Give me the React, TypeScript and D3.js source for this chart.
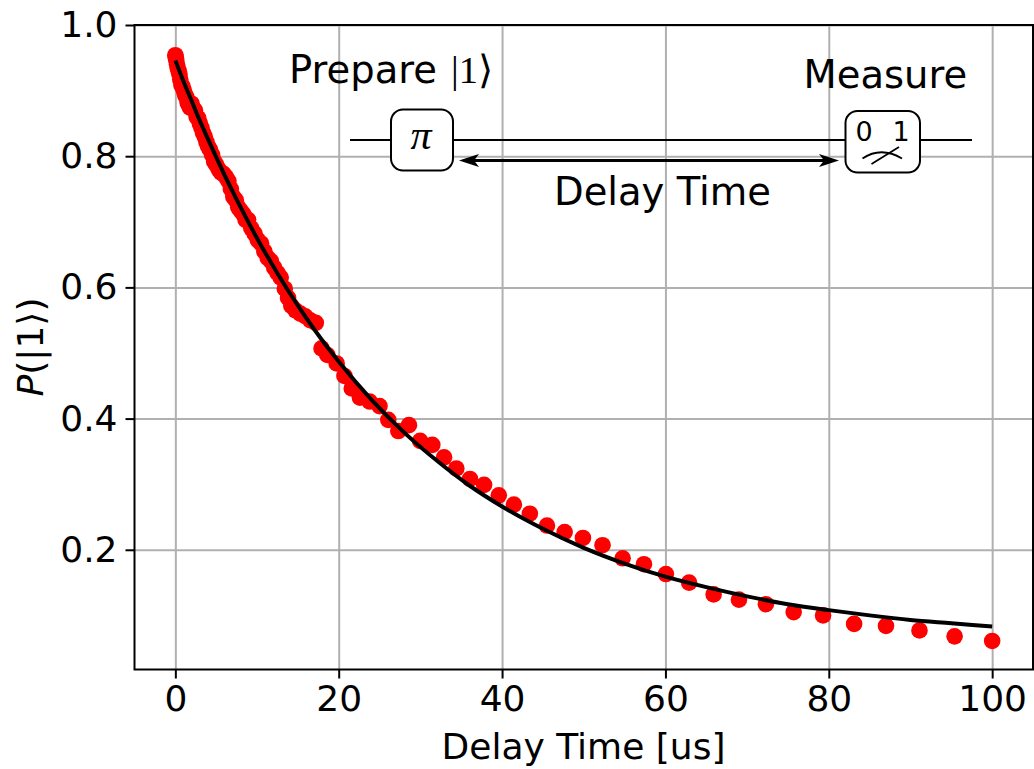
import React, { useEffect, useRef } from "react";
import * as d3 from "d3";

const delayTimes = [0,.05,.1,.2,.3,.4,.5,.6,.75,.9,1.05,1.2,1.35,1.5,1.65,1.8,2,2.2,2.4,2.6,2.8,3,3.2,3.4,3.6,3.8,4,4.25,4.5,4.75,5,5.3,5.6,5.9,6.2,6.5,6.8,7.1,7.4,7.7,8,8.3,8.6,8.9,9.3,9.7,10.1,10.5,10.9,11.3,11.7,12.1,12.5,12.9,13.4,13.8,14.2,14.7,15.3,15.9,16.5,17.2,17.9,18.6,19.75,20.7,21.6,22.6,23.8,25,26.07,27.3,28.6,29.97,31.46,32.9,34.4,36.07,37.8,39.6,41.45,43.4,45.5,47.66,49.9,52.3,54.76,57.37,60.06,62.9,65.9,69,72.3,75.7,79.3,83.1,87,91.1,95.4,100];
const populations = [.954,.951,.947,.94,.934,.93,.925,.917,.908,.906,.9,.893,.89,.882,.878,.874,.88,.872,.87,.86,.858,.85,.843,.835,.83,.822,.815,.81,.802,.792,.787,.78,.775,.773,.768,.762,.75,.738,.733,.722,.717,.712,.703,.703,.69,.682,.672,.667,.655,.645,.64,.63,.622,.615,.598,.584,.572,.565,.56,.556,.55,.546,.507,.497,.484,.465,.446,.432,.426,.419,.398,.381,.39,.366,.36,.341,.324,.308,.299,.283,.269,.255,.237,.227,.218,.207,.187,.178,.163,.15,.132,.124,.117,.105,.1,.087,.084,.077,.068,.061];

const fitTimes = [0,1,2,3,4,6,8,10,12,14,16,18,20,24,28,32,36,40,45,50,55,60,65,70,75,80,85,90,95,100];
const fitValues = [.946,.914,.884,.854,.826,.772,.722,.675,.632,.5915,.554,.519,.487,.429,.379,.336,.298,.266,.232,.203,.179,.159,.143,.129,.117,.108,.1,.093,.088,.083];

const xTicks = [0, 20, 40, 60, 80, 100];
const yTicks = [0.2, 0.4, 0.6, 0.8, 1.0];

const W = 1034, H = 769;
const L = 134.5, R = 1033, T = 25, B = 669.5;
const FONT = "'DejaVu Sans', sans-serif";
const TICK = 36;
const NOTE = 38.5;

export default function App() {
  const ref = useRef<SVGSVGElement | null>(null);
  const x = d3.scaleLinear().domain([-5, 105]).range([L, R]);
  const y = d3.scaleLinear().domain([0.0175, 1]).range([B, T]);
  const fitPath = d3.line<number>().x((d) => x(d)).y((_, i) => y(fitValues[i])).curve(d3.curveMonotoneX)(fitTimes) || "";

  useEffect(() => {
    const svg = d3.select(ref.current);
    const gx = svg.select<SVGGElement>(".x-axis");
    const gy = svg.select<SVGGElement>(".y-axis");
    const gridX = svg.select<SVGGElement>(".x-grid");
    const gridY = svg.select<SVGGElement>(".y-grid");
    gridX.call(d3.axisBottom(x).tickValues(xTicks).tickSize(-(B - T)).tickFormat(() => ""));
    gridY.call(d3.axisLeft(y).tickValues(yTicks).tickSize(-(R - L)).tickFormat(() => ""));
    [gridX, gridY].forEach((g) => {
      g.select(".domain").remove();
      g.selectAll("line").attr("stroke", "#b0b0b0").attr("stroke-width", 2);
    });
    gx.call(d3.axisBottom(x).tickValues(xTicks).tickSize(9).tickPadding(7).tickFormat((d) => String(d)));
    gy.call(d3.axisLeft(y).tickValues(yTicks).tickSize(9).tickPadding(8).tickFormat((d) => (+d).toFixed(1)));
    [gx, gy].forEach((g) => {
      g.select(".domain").remove();
      g.selectAll("line").attr("stroke", "#000").attr("stroke-width", 2);
      g.selectAll("text").attr("font-family", FONT).attr("font-size", TICK).attr("fill", "#000");
    });
  }, []);

  return (
    <svg ref={ref} width={W} height={H} viewBox={`0 0 ${W} ${H}`}
      style={{ position: "fixed", left: 0, top: 0, background: "#fff", display: "block" }}>
      <defs>
        <clipPath id="plot"><rect x={L} y={T} width={R - L} height={B - T} /></clipPath>
      </defs>
      <g className="x-grid" transform={`translate(0,${B})`} />
      <g className="y-grid" transform={`translate(${L},0)`} />
      <g clipPath="url(#plot)">
        {delayTimes.map((d, i) => (
          <circle key={i} cx={x(d)} cy={y(populations[i])} r={8.3} fill="#ff0000" />
        ))}
        <path d={fitPath} fill="none" stroke="#000" strokeWidth={4} />
      </g>
      <rect x={L} y={T} width={R - L} height={B - T} fill="none" stroke="#000" strokeWidth={2} />
      <g className="x-axis" transform={`translate(0,${B})`} />
      <g className="y-axis" transform={`translate(${L},0)`} />

      <text x={(442 + 725) / 2} y={759} textAnchor="middle" fontFamily={FONT} fontSize={TICK}>Delay Time [us]</text>
      <text transform="translate(43,347) rotate(-90)" textAnchor="middle" fontFamily={FONT} fontSize={TICK}>
        <tspan fontStyle="italic">P</tspan>(|1⟩)
      </text>

      {/* circuit diagram */}
      <line x1={350} y1={140} x2={972} y2={140} stroke="#000" strokeWidth={1.8} />
      <rect x={391} y={109.5} width={62} height={61} rx={12} fill="#fff" stroke="#000" strokeWidth={2} />
      <rect x={845.5} y={111} width={74.5} height={61.5} rx={12} fill="#fff" stroke="#000" strokeWidth={2} />
      <text x={421} y={149} textAnchor="middle" fontFamily="'Liberation Serif', serif" fontStyle="italic" fontSize={42}>π</text>
      <text x={864} y={141} textAnchor="middle" fontFamily={FONT} fontSize={27}>0</text>
      <text x={901} y={141} textAnchor="middle" fontFamily={FONT} fontSize={27}>1</text>
      <path d="M862.5 158.5 Q881 146 902 158.5" fill="none" stroke="#000" strokeWidth={1.8} />
      <line x1={871.5} y1={164} x2={899} y2={147} stroke="#000" strokeWidth={1.8} />
      <line x1={470} y1={160.5} x2={828} y2={160.5} stroke="#000" strokeWidth={3} />
      <path d="M459 160.5 L479 154 L474 160.5 L479 167 Z" fill="#000" />
      <path d="M839 160.5 L819 154 L824 160.5 L819 167 Z" fill="#000" />

      <text x={289} y={83} fontFamily={FONT} fontSize={NOTE}>Prepare</text>
      <text x={451} y={83} fontFamily="'Liberation Serif', serif" fontSize={NOTE}>|1⟩</text>
      <text x={803.5} y={88} fontFamily={FONT} fontSize={NOTE}>Measure</text>
      <text x={554} y={205} fontFamily={FONT} fontSize={NOTE}>Delay Time</text>
    </svg>
  );
}
